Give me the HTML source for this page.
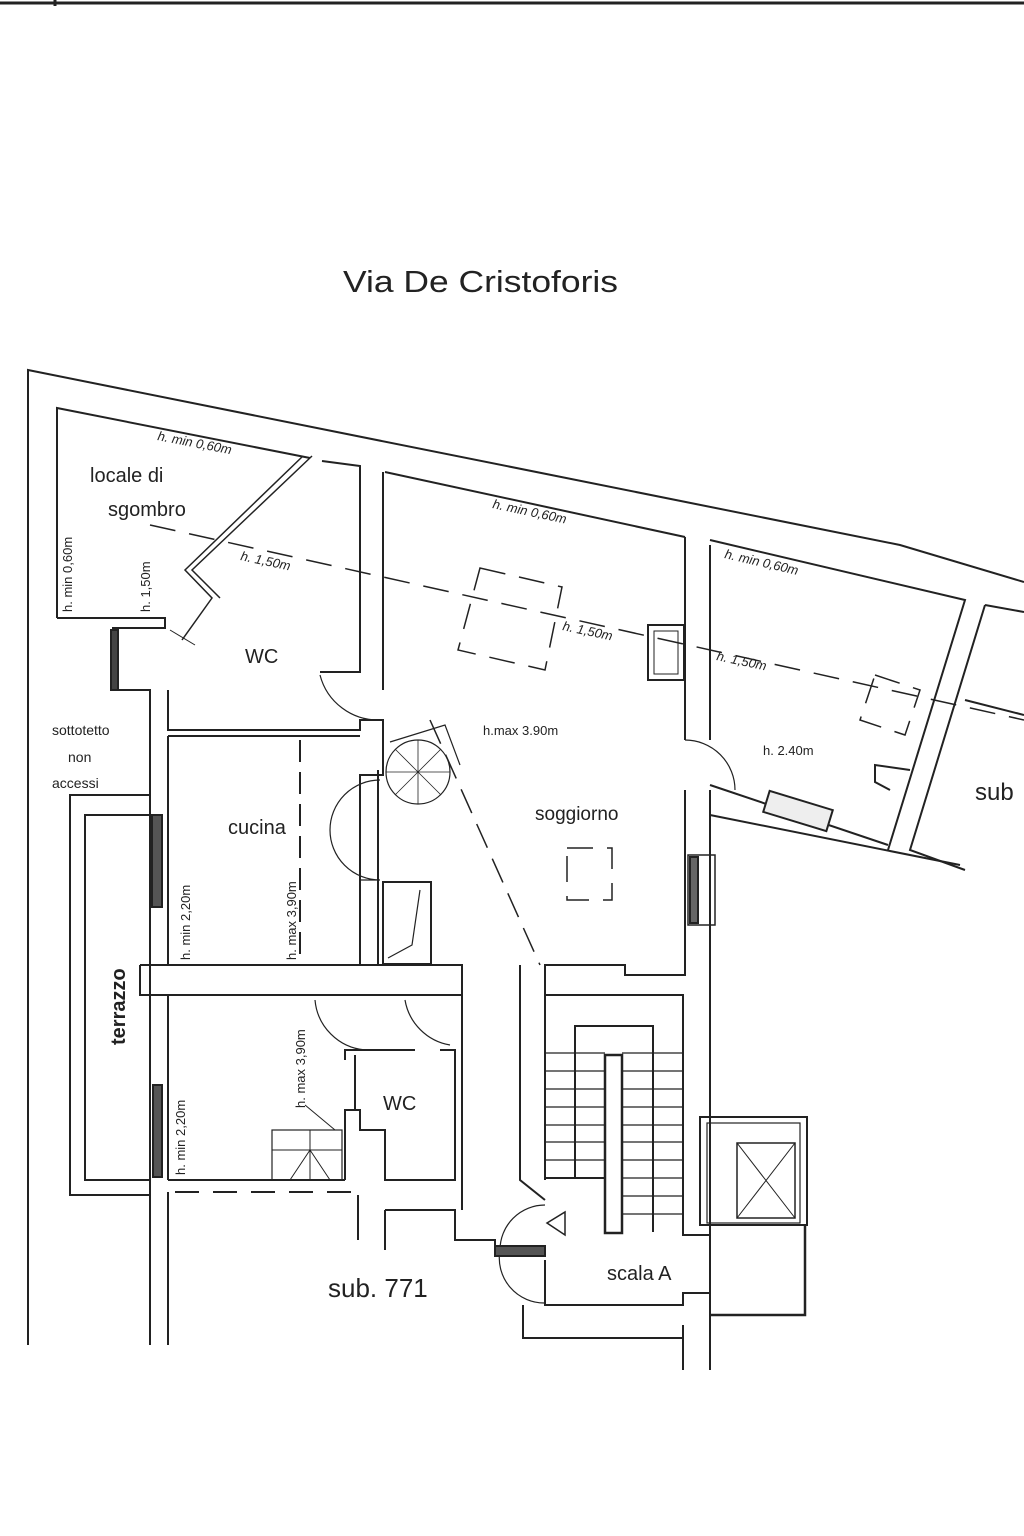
<!DOCTYPE html>
<html><head><meta charset="utf-8"><style>
html,body{margin:0;padding:0;background:#fff;}
svg{display:block;}
text{font-family:"Liberation Sans",sans-serif;fill:#222;}
</style></head><body>
<svg width="1024" height="1536" viewBox="0 0 1024 1536" xmlns="http://www.w3.org/2000/svg">
<g stroke="#222" stroke-width="2" fill="none">
<line x1="0" y1="3" x2="1024" y2="3" stroke-width="3"/>
<line x1="55" y1="0" x2="55" y2="6" stroke-width="3"/>
<polyline points="28,1345 28,370 900,545 1024,582"/>
<polyline points="57,618 57,408 310,458"/>
<polyline points="57,618 165,618 165,628 112,628"/>
<polyline points="322,461 360,466 360,672 320,672"/>
<polyline points="385,472 685,537"/>
<line x1="383" y1="472" x2="383" y2="690"/>
<polyline points="303,456 185,570 212,598 182,640" stroke-width="1.5"/>
<polyline points="312,456 192,570 220,598" stroke-width="1.5"/>
<line x1="170" y1="630" x2="195" y2="645" stroke-width="1"/>
<rect x="111" y="630" width="7" height="60" fill="#444"/>
<polyline points="110,690 150,690 150,1180"/>
<polyline points="168,690 168,730 360,730 360,720 383,720 383,775 360,775 360,965"/>
<line x1="168" y1="736" x2="360" y2="736"/>
<line x1="168" y1="736" x2="168" y2="965"/>
<line x1="378" y1="770" x2="378" y2="965"/>
<line x1="300" y1="740" x2="300" y2="960" stroke-dasharray="22,10"/>
<path d="M320,675 A60,60 0 0 0 380,720" stroke-width="1.2"/>
<path d="M380,780 A50,50 0 0 0 380,880 L360,880" stroke-width="1.2"/>
<path d="M685,740 A50,50 0 0 1 735,790" stroke-width="1.2"/>
<rect x="152" y="815" width="10" height="92" fill="#555"/>
<rect x="383" y="882" width="48" height="82"/>
<polyline points="388,958 412,945 420,890" stroke-width="1.2"/>
<polyline points="140,965 462,965 462,995 140,995 140,965"/>
<line x1="168" y1="995" x2="168" y2="1180"/>
<line x1="168" y1="1180" x2="345" y2="1180"/>
<line x1="150" y1="1180" x2="150" y2="1345"/>
<line x1="168" y1="1192" x2="168" y2="1345"/>
<line x1="175" y1="1192" x2="357" y2="1192" stroke-dasharray="24,14"/>
<polyline points="150,795 70,795 70,1195 150,1195"/>
<polyline points="150,815 85,815 85,1180 150,1180"/>
<rect x="153" y="1085" width="9" height="92" fill="#555"/>
<polyline points="345,1180 345,1110 360,1110 360,1130 385,1130 385,1180 455,1180 455,1050 440,1050"/>
<polyline points="345,1060 345,1050 415,1050"/>
<polyline points="355,1110 355,1055"/>
<path d="M315,1000 A55,55 0 0 0 365,1050" stroke-width="1.2"/>
<path d="M405,1000 A55,55 0 0 0 450,1045" stroke-width="1.2"/>
<rect x="272" y="1130" width="70" height="50" stroke-width="1.2"/>
<line x1="272" y1="1150" x2="342" y2="1150" stroke-width="1"/>
<line x1="310" y1="1130" x2="310" y2="1180" stroke-width="1"/>
<polyline points="290,1180 310,1150 330,1180" stroke-width="1"/>
<line x1="305" y1="1105" x2="335" y2="1130" stroke-width="1"/>
<line x1="385" y1="1210" x2="385" y2="1250"/>
<polyline points="385,1210 455,1210 455,1240 495,1240 495,1250 545,1250"/>
<line x1="358" y1="1195" x2="358" y2="1240"/>
<polyline points="462,995 462,1210"/>
<polyline points="685,537 685,740"/>
<polyline points="710,545 710,740"/>
<polyline points="685,790 685,975 625,975 625,965 545,965 545,995"/>
<polyline points="520,965 520,1180 545,1200"/>
<rect x="648" y="625" width="36" height="55"/>
<rect x="654" y="631" width="24" height="43" stroke-width="1"/>
<rect x="688" y="855" width="27" height="70" stroke-width="1.5"/>
<rect x="690" y="857" width="8" height="66" fill="#666"/>
<line x1="430" y1="720" x2="540" y2="965" stroke-dasharray="26,12" stroke-width="1.5"/>
<circle cx="418" cy="772" r="32" stroke-width="1.2"/>
<g stroke-width="0.8">
<line x1="418" y1="772" x2="418" y2="740"/><line x1="418" y1="772" x2="450" y2="772"/>
<line x1="418" y1="772" x2="386" y2="772"/><line x1="418" y1="772" x2="418" y2="804"/>
<line x1="418" y1="772" x2="441" y2="749"/><line x1="418" y1="772" x2="395" y2="749"/>
<line x1="418" y1="772" x2="395" y2="795"/><line x1="418" y1="772" x2="441" y2="795"/>
</g>
<polyline points="390,742 445,725 460,765" stroke-width="1.2"/>
<g stroke-dasharray="26,14" stroke-width="1.5">
<line x1="150" y1="525" x2="1024" y2="720"/>
<polygon points="480,568 562,587 545,670 458,650"/>
<polygon points="567,848 612,848 612,900 567,900"/>
<polygon points="875,675 920,690 905,735 860,720"/>
</g>
<polyline points="710,540 965,600 888,850"/>
<polyline points="710,790 710,1370"/>
<polyline points="710,785 888,845"/>
<polyline points="710,815 960,865"/>
<polyline points="985,605 1024,612"/>
<polyline points="985,605 910,850 965,870"/>
<polyline points="910,770 875,765 875,782 890,790"/>
<rect x="765" y="800" width="66" height="22" transform="rotate(17 798 811)" fill="#eee"/>
<line x1="965" y1="700" x2="1024" y2="715"/>
<polyline points="545,995 683,995 683,1235 710,1235"/>
<polyline points="545,995 545,1180"/>
<polyline points="575,1178 575,1026 653,1026 653,1232"/>
<rect x="605" y="1055" width="17" height="178" stroke-width="2.5"/>
<g stroke-width="1.2">
<line x1="545" y1="1053" x2="605" y2="1053"/><line x1="622" y1="1053" x2="683" y2="1053"/>
<line x1="545" y1="1071" x2="605" y2="1071"/><line x1="622" y1="1071" x2="683" y2="1071"/>
<line x1="545" y1="1089" x2="605" y2="1089"/><line x1="622" y1="1089" x2="683" y2="1089"/>
<line x1="545" y1="1107" x2="605" y2="1107"/><line x1="622" y1="1107" x2="683" y2="1107"/>
<line x1="545" y1="1125" x2="605" y2="1125"/><line x1="622" y1="1125" x2="683" y2="1125"/>
<line x1="545" y1="1142" x2="605" y2="1142"/><line x1="622" y1="1142" x2="683" y2="1142"/>
<line x1="545" y1="1160" x2="605" y2="1160"/><line x1="622" y1="1160" x2="683" y2="1160"/>
<line x1="545" y1="1178" x2="605" y2="1178" stroke-width="2"/><line x1="622" y1="1178" x2="683" y2="1178"/>
<line x1="622" y1="1196" x2="683" y2="1196"/><line x1="622" y1="1214" x2="683" y2="1214"/>
</g>
<polygon points="547,1223 565,1212 565,1235" stroke-width="1.5"/>
<path d="M545,1205 A45,45 0 0 0 500,1250 A45,45 0 0 0 545,1303" stroke-width="1.2"/>
<rect x="495" y="1246" width="50" height="10" fill="#555"/>
<polyline points="545,1260 545,1305 683,1305 683,1293 710,1293"/>
<polyline points="523,1305 523,1338 683,1338"/>
<line x1="683" y1="1325" x2="683" y2="1370"/>
<rect x="700" y="1117" width="107" height="108"/>
<rect x="707" y="1123" width="93" height="100" stroke-width="1.2"/>
<rect x="737" y="1143" width="58" height="75" stroke-width="1.5"/>
<line x1="737" y1="1143" x2="795" y2="1218" stroke-width="1"/>
<line x1="795" y1="1143" x2="737" y2="1218" stroke-width="1"/>
<polyline points="805,1225 805,1315 710,1315" stroke-width="2.5"/>
</g>
<text x="343" y="292" font-size="31" textLength="275" lengthAdjust="spacingAndGlyphs">Via De Cristoforis</text>
<text x="90" y="482" font-size="20">locale di</text>
<text x="108" y="516" font-size="20">sgombro</text>
<text x="245" y="663" font-size="20">WC</text>
<text x="52" y="735" font-size="14">sottotetto</text>
<text x="68" y="762" font-size="14">non</text>
<text x="52" y="788" font-size="14">accessi</text>
<text x="228" y="834" font-size="20">cucina</text>
<text x="535" y="820" font-size="19">soggiorno</text>
<text x="483" y="735" font-size="13">h.max 3.90m</text>
<text x="763" y="755" font-size="13">h. 2.40m</text>
<text x="975" y="800" font-size="24">sub</text>
<text x="383" y="1110" font-size="20">WC</text>
<text x="328" y="1297" font-size="26">sub. 771</text>
<text x="607" y="1280" font-size="20">scala A</text>
<text transform="translate(125,1045) rotate(-90)" font-size="20" font-weight="bold">terrazzo</text>
<g font-size="13" font-style="italic">
<text transform="translate(157,440) rotate(11)">h. min 0,60m</text>
<text transform="translate(492,508) rotate(12)">h. min 0,60m</text>
<text transform="translate(724,558) rotate(13)">h. min 0,60m</text>
<text transform="translate(240,560) rotate(12)">h. 1,50m</text>
<text transform="translate(562,630) rotate(12)">h. 1,50m</text>
<text transform="translate(716,660) rotate(12)">h. 1,50m</text>
</g>
<g font-size="13">
<text transform="translate(72,612) rotate(-90)">h. min 0,60m</text>
<text transform="translate(150,612) rotate(-90)">h. 1,50m</text>
<text transform="translate(190,960) rotate(-90)">h. min 2,20m</text>
<text transform="translate(296,960) rotate(-90)">h. max 3,90m</text>
<text transform="translate(185,1175) rotate(-90)">h. min 2,20m</text>
<text transform="translate(305,1108) rotate(-90)">h. max 3,90m</text>
</g>
</svg>
</body></html>
